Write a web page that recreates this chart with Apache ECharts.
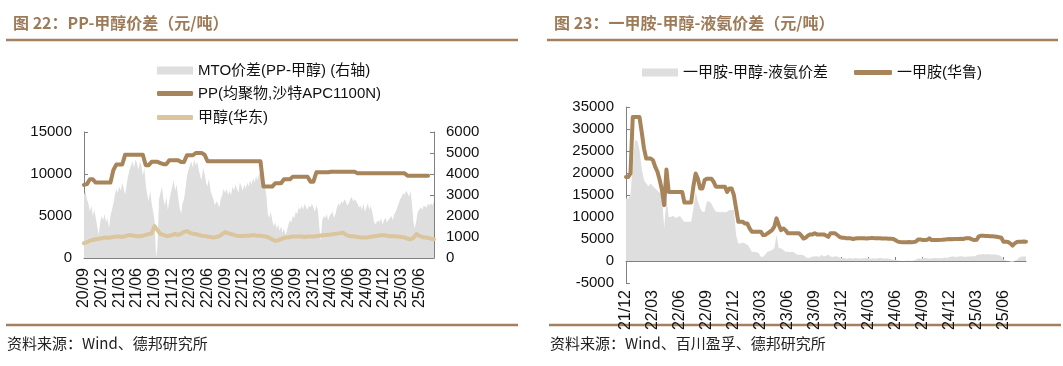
<!DOCTYPE html>
<html><head><meta charset="utf-8">
<script src="https://cdn.jsdelivr.net/npm/echarts@6/dist/echarts.min.js"></script>
<style>html,body{margin:0;padding:0;background:#fff}#c{width:1063px;height:366px}</style>
</head><body><div id="c"></div>
<script>
// ===== 图22 data: x = months since 2020-09 =====
const leftTickLabels = ['20/09','20/12','21/03','21/06','21/09','21/12','22/03','22/06','22/09','22/12','23/03','23/06','23/09','23/12','24/03','24/06','24/09','24/12','25/03','25/06'];
// MTO价差 (right axis), 4 readings per month
const mtoSpread = [
3000,3200,2800,2600, 2200,2500,2000,2300, 1900,1500,1100,1700, 2000,1800,2100,1700,
1900,1400,2000,2300, 2600,3000,3300,3100, 3400,3200,3600,3300, 3000,3500,3900,4200,
4400,4600,4300,4700, 4500,4200,4600,4400, 3900,4300,3500,3000, 2700,3200,2600,2200,
1800,0,600,2800, 3100,3400,2800,2500, 2900,2300,2700,3100, 3400,3700,3200,3500,
2900,2400,2100,2600, 2800,3300,3900,4200, 4400,4600,4300,4700, 4400,4600,4200,3900,
3700,4300,4000,3600, 3400,3800,3200,3000, 2800,2500,2700,2600, 2400,2800,3000,3300,
3100,3300,3000,3200, 3000,3400,3200,3500, 3300,3100,3600,3400, 3200,3500,3300,3600,
3400,3700,3500,3800, 3600,3900,3700,4000, 4100,3900,3700,3400, 3000,2100,1900,2200,
1800,1500,1700,1400, 1600,1300,1500,1200, 1400,1100,1300,1600, 1800,1700,2000,1900,
2200,2100,2400,2300, 2500,2300,2600,2400, 2300,2500,2400,2600, 2400,2200,2500,2300,
1500,800,1800,2000, 1900,2100,1800,2000, 2000,2200,1900,2100, 2400,2600,2500,2700,
2600,2800,2700,2500, 2600,2800,2900,2700, 2800,2700,2600,2400, 2500,2300,2600,2200,
2400,2600,2300,2500, 2200,1800,1600,1700, 1800,1700,1900,1600, 1800,1900,1700,1800,
1900,2000,1800,2100, 2200,2400,2600,2800, 2900,3100,3000,3200, 3100,2900,3200,2600,
1700,1400,1800,2200, 2200,2400,2300,2500, 2500,2400,2600,2500, 2600,2500,2700
];
// PP(均聚物,沙特APC1100N), 2 readings per month
const ppPrice = [
8700,8800, 9370,9370, 8980,8980, 8980,8980, 8980,8980, 10470,11130, 11130,11130, 12300,12300,
12300,12300, 12300,12300, 12300,11050, 11050,11450, 11450,11450, 11300,11170, 11170,11640, 11640,11640,
11640,11440, 11440,12230, 12230,12230, 12500,12500, 12500,12300, 11520,11520, 11520,11520, 11520,11520,
11520,11520, 11520,11520, 11520,11520, 11520,11520, 11520,11520, 11520,11520, 11520,8500, 8500,8500,
8500,8900, 8900,8900, 9370,9370, 9370,9680, 9680,9680, 9680,9680, 9680,9090, 9090,10200,
10200,10200, 10200,10200, 10270,10270, 10270,10270, 10270,10270, 10270,10270, 10270,10080, 10080,10080,
10080,10080, 10080,10080, 10080,10080, 10080,10080, 10080,10080, 10080,10080, 10080,10080, 9800,9800,
9800,9800, 9800,9800, 9800,9800
];
// 甲醇(华东), 2 readings per month
const methanolPrice = [
1760,1900, 2050,2150, 2235,2300, 2350,2430, 2400,2450, 2500,2550, 2550,2500, 2600,2700,
2700,2650, 2600,2600, 2650,2750, 2850,2950, 3800,3300, 2860,2750, 2620,2650, 2750,2860,
2750,2900, 3100,3210, 3000,2900, 2860,2750, 2650,2620, 2550,2500, 2430,2500, 2600,2850,
3090,2950, 2860,2750, 2650,2620, 2620,2650, 2650,2700, 2700,2650, 2650,2600, 2550,2400,
2200,2040, 2100,2250, 2400,2430, 2500,2550, 2550,2550, 2550,2500, 2550,2550, 2550,2600,
2650,2700, 2750,2780, 2800,2850, 2900,2950, 3020,2800, 2620,2600, 2550,2500, 2450,2430,
2450,2500, 2550,2600, 2650,2700, 2700,2650, 2600,2600, 2550,2550, 2500,2450, 2300,2240,
2400,2860, 2650,2500, 2430,2400, 2300,2240
];

// ===== 图23 data: x = months since 2021-12 =====
const rightTickLabels = ['21/12','22/03','22/06','22/09','22/12','23/03','23/06','23/09','23/12','24/03','24/06','24/09','24/12','25/03','25/06'];
// 一甲胺-甲醇-液氨价差, 4 readings per month
const mmaSpread = [
14200,14200,15000,22000, 27400,27400,25200,21000, 18400,17600,17000,17600, 17000,16500,16000,15500,
15000,7400,14200,10000, 10000,10300,9800,10000, 10200,9500,8900,8900, 8900,8900,12000,15700,
13500,12000,11200,11200, 13500,13500,13000,12000, 11200,11200,11000,11200, 11000,11200,11600,11600,
11600,5900,4000,4000, 4200,4000,3700,3000, 2100,2100,2000,1800, 980,980,1500,2100,
2300,2500,2900,5900, 2900,2900,2500,2100, 2100,2000,2100,1900, 1500,1400,1400,1300,
900,600,800,1000, 1000,1100,900,1400, 1000,1200,1400,1000, 900,1100,1000,800,
600,700,500,600, 600,500,700,600, 500,600,600,700, 600,500,600,500,
600,700,600,500, 600,500,400,300, 200,100,50,0, 0,50,100,0,
100,300,600,500, 600,700,600,500, 600,700,600,700, 600,700,800,700,
900,1000,1000,900, 1000,1100,1000,900, 1000,1000,1100,1000, 1300,1500,1500,1600,
1500,1600,1500,1500, 1500,1400,1300,1000, 300,100,0,-100, -200,0,300,800,
1000,1000,1000
];
// 一甲胺(华鲁), 4 readings per month
const mmaPrice = [
19100,19100,19900,32700, 32700,32700,32700,29300, 25600,23300,23300,23300, 22900,21400,20300,18400,
16100,12700,20800,15700, 15700,15700,15700,15700, 15700,15700,13300,13300, 13300,13300,17000,19900,
18700,16500,16500,18400, 18700,18700,18700,18000, 16900,16900,16900,16900, 16900,15700,16500,16500,
15000,11900,8900,8900, 8900,8500,8500,7400, 6650,6650,6650,6650, 6650,5900,5900,6300,
6650,7000,7800,9700, 8200,7000,7400,7000, 6300,6300,6300,6300, 6300,6300,5800,5100,
5300,5800,6050,6050, 6300,6050,6050,6050, 6050,5800,5500,6300, 6300,6300,5900,5500,
5300,5300,5150,5150, 5150,5000,5100,5150, 5150,5200,5150,5100, 5150,5200,5200,5150,
5150,5150,5100,5100, 5100,5050,5050,5000, 4700,4400,4300,4250, 4250,4250,4300,4250,
4300,4400,4900,4900, 4750,4750,4800,5150, 4750,4750,4800,4750, 4800,4850,4900,4950,
5000,4950,5000,5000, 5000,5050,5000,5150, 5150,5150,4900,4750, 4800,5600,5750,5750,
5700,5700,5650,5600, 5550,5500,5400,5300, 4400,4400,4300,4000, 3500,4000,4300,4400,
4400,4450,4400
];

const BROWN = '#a8845a', TAN = '#dac59d', GRAY = '#dedede', TITLE = '#9d7b59', AXIS = '#808080';
const FONT = '"Liberation Sans", Arial, "Noto Sans CJK SC", sans-serif';
const pts = (arr, perMonth) => arr.map((v, i) => [i / perMonth, v]);

function xAxisCfg(grid, max, labels, margin) {
  return {
    type: 'value', gridIndex: grid, min: 0, max: max, interval: 3,
    axisLine: { onZero: true, lineStyle: { color: AXIS, width: 1 } },
    axisTick: { inside: true, length: 4, lineStyle: { color: AXIS } },
    splitLine: { show: false },
    axisLabel: {
      rotate: 90, margin: margin, fontSize: 16, color: '#111', fontFamily: FONT,
      showMaxLabel: false,
      formatter: v => (Math.abs(v / 3 - Math.round(v / 3)) < 1e-6 && labels[Math.round(v / 3)]) ? labels[Math.round(v / 3)] : ''
    }
  };
}
function yAxisCfg(grid, min, max, interval, pos) {
  return {
    type: 'value', gridIndex: grid, min: min, max: max, interval: interval, position: pos,
    axisLine: { show: true, lineStyle: { color: AXIS, width: 1 } },
    axisTick: { show: true, inside: true, length: 4, lineStyle: { color: AXIS } },
    splitLine: { show: false },
    axisLabel: { fontSize: 15, color: '#111', fontFamily: FONT, margin: 12, formatter: v => String(v) }
  };
}
const legendText = { fontSize: 15, color: '#111', fontFamily: FONT };

const chart = echarts.init(document.getElementById('c'), null, { renderer: 'canvas' });
chart.setOption({
  animation: false,
  backgroundColor: '#fff',
  title: [
    { text: '图 22：PP-甲醇价差（元/吨）', left: 8, top: 10,
      textStyle: { fontSize: 16, fontWeight: 'bold', color: TITLE, fontFamily: '"Noto Sans CJK SC", sans-serif' } },
    { text: '图 23：一甲胺-甲醇-液氨价差（元/吨）', left: 549, top: 10,
      textStyle: { fontSize: 16, fontWeight: 'bold', color: TITLE, fontFamily: '"Noto Sans CJK SC", sans-serif' } }
  ],
  legend: [
    { left: 152, top: 58, itemWidth: 36, itemHeight: 8, textStyle: legendText,
      data: [{ name: 'MTO价差(PP-甲醇) (右轴)', icon: 'rect', itemStyle: { color: GRAY } }] },
    { left: 152, top: 81, itemWidth: 36, itemHeight: 5, textStyle: legendText,
      data: [{ name: 'PP(均聚物,沙特APC1100N)', icon: 'roundRect', itemStyle: { color: BROWN } }] },
    { left: 152, top: 105, itemWidth: 36, itemHeight: 5, textStyle: legendText,
      data: [{ name: '甲醇(华东)', icon: 'roundRect', itemStyle: { color: TAN } }] },
    { left: 637, top: 60, itemWidth: 36, itemHeight: 8, textStyle: legendText,
      data: [{ name: '一甲胺-甲醇-液氨价差', icon: 'rect', itemStyle: { color: GRAY } }] },
    { left: 849, top: 60, itemWidth: 38, itemHeight: 5, textStyle: legendText,
      data: [{ name: '一甲胺(华鲁)', icon: 'roundRect', itemStyle: { color: BROWN } }] }
  ],
  grid: [
    { left: 84, right: 1063 - 434, top: 132, bottom: 108, outerBoundsMode: 'none', containLabel: false },
    { left: 626, right: 1063 - 1026, top: 107, bottom: 83, outerBoundsMode: 'none', containLabel: false }
  ],
  xAxis: [
    xAxisCfg(0, 59.5, leftTickLabels, 10),
    xAxisCfg(1, 44.5, rightTickLabels, 7)
  ],
  yAxis: [
    yAxisCfg(0, 0, 15000, 5000, 'left'),
    yAxisCfg(0, 0, 6000, 1000, 'right'),
    yAxisCfg(1, -5000, 35000, 5000, 'left')
  ],
  series: [
    { name: 'MTO价差(PP-甲醇) (右轴)', type: 'line', xAxisIndex: 0, yAxisIndex: 1,
      data: pts(mtoSpread, 4), symbol: 'none', z: 1,
      itemStyle: { color: GRAY }, lineStyle: { width: 0, color: GRAY },
      areaStyle: { color: GRAY, opacity: 1 } },
    { name: 'PP(均聚物,沙特APC1100N)', type: 'line', xAxisIndex: 0, yAxisIndex: 0,
      data: pts(ppPrice, 2), symbol: 'none', z: 3,
      itemStyle: { color: BROWN }, lineStyle: { width: 4, color: BROWN, join: 'round', cap: 'round' } },
    { name: '甲醇(华东)', type: 'line', xAxisIndex: 0, yAxisIndex: 0,
      data: pts(methanolPrice, 2), symbol: 'none', z: 3,
      itemStyle: { color: TAN }, lineStyle: { width: 4, color: TAN, join: 'round', cap: 'round' } },
    { name: '一甲胺-甲醇-液氨价差', type: 'line', xAxisIndex: 1, yAxisIndex: 2,
      data: pts(mmaSpread, 4), symbol: 'none', z: 1,
      itemStyle: { color: GRAY }, lineStyle: { width: 0, color: GRAY },
      areaStyle: { color: GRAY, opacity: 1 } },
    { name: '一甲胺(华鲁)', type: 'line', xAxisIndex: 1, yAxisIndex: 2,
      data: pts(mmaPrice, 4), symbol: 'none', z: 3,
      itemStyle: { color: BROWN }, lineStyle: { width: 4, color: BROWN, join: 'round', cap: 'round' } }
  ],
  graphic: [
    { type: 'line', shape: { x1: 6, y1: 40, x2: 518, y2: 40 }, style: { stroke: '#a4815e', lineWidth: 2.5 } },
    { type: 'line', shape: { x1: 547, y1: 40, x2: 1058, y2: 40 }, style: { stroke: '#a4815e', lineWidth: 2.5 } },
    { type: 'line', shape: { x1: 6, y1: 325, x2: 518, y2: 325 }, style: { stroke: '#a4815e', lineWidth: 2.5 } },
    { type: 'line', shape: { x1: 549, y1: 325, x2: 1061, y2: 325 }, style: { stroke: '#a4815e', lineWidth: 2.5 } },
    { type: 'text', left: 7, top: 336, style: { text: '资料来源：Wind、德邦研究所', fill: '#222', font: '15px "Noto Sans CJK SC", sans-serif' } },
    { type: 'text', left: 550, top: 336, style: { text: '资料来源：Wind、百川盈孚、德邦研究所', fill: '#222', font: '15px "Noto Sans CJK SC", sans-serif' } }
  ]
});
</script>
</body></html>
